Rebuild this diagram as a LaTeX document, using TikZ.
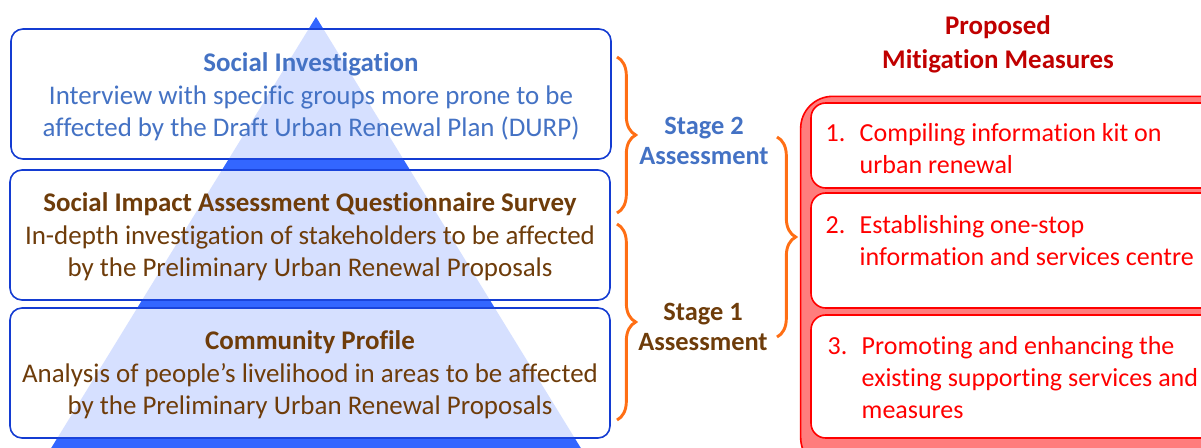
\documentclass[tikz,border=0pt]{standalone}
\usepackage{fontspec}
\setmainfont[Ligatures=NoCommon]{Carlito}
\usepackage{tikz}
\usetikzlibrary{decorations.pathreplacing}

\definecolor{layerblue}{RGB}{20,60,210}
\definecolor{pyrblue}{RGB}{51,102,255}
\definecolor{siblue}{RGB}{68,114,196}
\definecolor{sabrown}{RGB}{110,60,10}
\definecolor{stageorange}{RGB}{255,110,20}
\definecolor{titlered}{RGB}{192,0,0}
\definecolor{itemred}{RGB}{255,0,0}
\definecolor{panelred}{RGB}{255,125,125}

\tikzset{
  layer/.style={draw=layerblue, line width=1.2pt, rounded corners=9pt, fill=white, minimum width=450pt, minimum height=97.5pt},
  itembox/.style={draw=itemred, line width=1.2pt, rounded corners=11pt, fill=white, minimum width=303pt},
  stagebrace/.style={draw=stageorange, line width=2.2pt, decorate, decoration={brace, amplitude=14pt}},
  body/.style={font=\fontsize{20.2}{24.4}\selectfont, align=center},
  itemtext/.style={font=\fontsize{19.5}{24}\selectfont, text=itemred, anchor=west}
}

\begin{document}
\begin{tikzpicture}[x=0.75pt,y=-0.75pt]
    \useasboundingbox (0,0) rectangle (1201,447);
    \clip (0,0) rectangle (1201,447);
    % pyramid behind the layers
    \fill[pyrblue] (316,17) -- (582,450) -- (50,450) -- cycle;
    \node (social) [layer] at (311,94) {};
    \node (survey) [layer] at (310,235) {};
    \node (profile) [layer] at (310,373) {};
    \fill[pyrblue, opacity=0.2] (316,17) -- (582,450) -- (50,450) -- cycle;
    \node (socialtxt) [body, text=siblue] at (311,97) {\textbf{Social Investigation}\\Interview with specific groups more prone to be\\affected by the Draft Urban Renewal Plan (DURP)};
    \node (surveytxt) [body, text=sabrown] at (310,237) {\textbf{Social Impact Assessment Questionnaire Survey}\\In-depth investigation of stakeholders to be affected\\by the Preliminary Urban Renewal Proposals};
    \node (profiletxt) [body, text=sabrown] at (310,375) {\textbf{Community Profile}\\Analysis of people's livelihood in areas to be affected\\by the Preliminary Urban Renewal Proposals};
    % stages
    \coordinate (twotop) at (617,57);
    \coordinate (twobot) at (617,213);
    \coordinate (onetop) at (617,224);
    \coordinate (onebot) at (617,420);
    \draw[stagebrace] (twotop) -- (twobot);
    \draw[stagebrace] (onetop) -- (onebot);
    \node (stagetwo) [body, text=siblue, font=\fontsize{19.8}{22.5}\selectfont\bfseries] at (704,141) {Stage 2\\Assessment};
    \node (stageone) [body, text=sabrown, font=\fontsize{19.8}{22.5}\selectfont\bfseries] at (703,327) {Stage 1\\Assessment};
    \coordinate (mtop) at (777,137);
    \coordinate (mbot) at (777,337);
    \draw[stagebrace] (mtop) -- (mbot);
    % mitigation measures
    \node (title) [body, text=titlered, font=\fontsize{20.2}{25.5}\selectfont\bfseries] at (998,44.5) {Proposed\\Mitigation Measures};
    \node (panel) [draw=itemred, fill=panelred, line width=1.2pt, rounded corners=24pt, minimum width=329pt, minimum height=280pt] at (1020,283) {};
    \node (kit) [itembox, minimum height=63.75pt] at (1013,145.5) {};
    \node (centre) [itembox, minimum height=86.25pt] at (1013,250.5) {};
    \node (support) [itembox, minimum height=92.25pt] at (1013,376.5) {};
    \node (kittxt) [itemtext] at (821,151) {\begin{tabular}{@{}p{25.5pt}@{}l@{}}1. & Compiling information kit on\\ & urban renewal\end{tabular}};
    \node (centretxt) [itemtext] at (821,243) {\begin{tabular}{@{}p{25.5pt}@{}l@{}}2. & Establishing one-stop\\ & information and services centre\end{tabular}};
    \node (supporttxt) [itemtext] at (823,380) {\begin{tabular}{@{}p{25.5pt}@{}l@{}}3. & Promoting and enhancing the\\ & existing supporting services and\\ & measures\end{tabular}};
\end{tikzpicture}
\end{document}
